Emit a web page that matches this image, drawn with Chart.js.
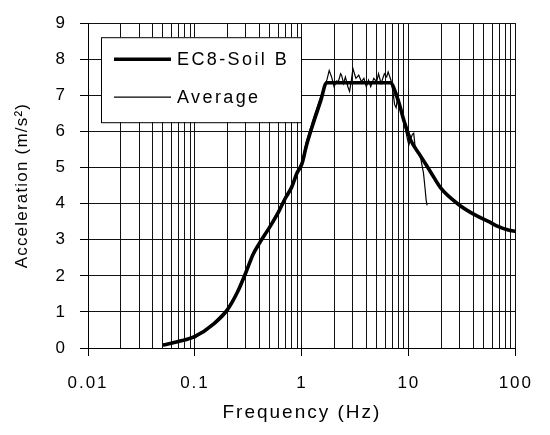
<!DOCTYPE html>
<html>
<head>
<meta charset="utf-8">
<script src="https://cdn.jsdelivr.net/npm/chart.js@4/dist/chart.umd.min.js"></script>
<style>
  html, body { margin: 0; padding: 0; background: #fff; }
  canvas { display: block; }
</style>
</head>
<body>
<canvas id="chart" width="550" height="435"></canvas>
<script>
// EC8 design spectrum (thick line), [frequency Hz, acceleration m/s2]
const ec8Freq = [0.05, 0.07, 0.1, 0.15, 0.2, 0.25, 0.3, 0.35, 0.4, 0.5, 0.6, 0.7, 0.8, 0.9, 1.0, 1.1, 1.3, 1.5, 1.7, 6.7, 7.9, 9.1, 10.4, 12.8, 15.8, 20, 30, 42, 56, 68, 85, 100];
const ec8Acc = [0.08, 0.18, 0.32, 0.67, 1.05, 1.55, 2.1, 2.6, 2.9, 3.35, 3.75, 4.15, 4.45, 4.85, 5.1, 5.6, 6.3, 6.85, 7.35, 7.35, 6.88, 6.25, 5.76, 5.33, 4.9, 4.42, 3.95, 3.68, 3.5, 3.37, 3.27, 3.23];

// average of records (thin line)
const avgFreq = [0.05, 0.07, 0.1, 0.12, 0.15, 0.2, 0.25, 0.3, 0.35, 0.4, 0.5, 0.6, 0.7, 0.8, 0.9, 1.0, 1.1, 1.3, 1.5, 1.65, 1.72, 1.8, 1.9, 2.0, 2.1, 2.19, 2.3, 2.35, 2.45, 2.55, 2.69, 2.79, 2.9, 3.0, 3.1, 3.2, 3.4, 3.6, 3.8, 4.0, 4.2, 4.4, 4.7, 5.0, 5.2, 5.5, 5.9, 6.2, 6.4, 6.8, 7.1, 7.35, 7.6, 7.9, 8.3, 8.6, 9.1, 9.6, 10.0, 10.4, 10.8, 11.1, 11.4, 12.0, 12.9, 13.2, 13.7, 14.2, 14.5, 14.8];
const avgAcc = [0.1, 0.17, 0.28, 0.45, 0.7, 1.08, 1.58, 2.15, 2.62, 2.93, 3.38, 3.8, 4.2, 4.5, 4.9, 5.15, 5.72, 6.42, 6.97, 7.3, 7.45, 7.69, 7.5, 7.24, 7.4, 7.38, 7.6, 7.56, 7.33, 7.51, 7.24, 7.11, 7.42, 7.74, 7.6, 7.47, 7.56, 7.38, 7.47, 7.24, 7.42, 7.24, 7.47, 7.38, 7.6, 7.33, 7.6, 7.51, 7.65, 7.42, 7.1, 6.75, 6.66, 7.0, 6.7, 6.55, 6.2, 5.85, 5.62, 5.8, 5.92, 5.95, 5.62, 5.44, 5.26, 5.1, 4.85, 4.4, 4.1, 3.95];

const xMajor = [0.01, 0.1, 1, 10, 100];
const xTickLabels = ["0.01", "0.1", "1", "10", "100"];
const yTicks = [0, 1, 2, 3, 4, 5, 6, 7, 8, 9];

const seriesLabels = ["EC8-Soil B", "Average"];

const fontFamily = "'Liberation Sans', Arial, sans-serif";

function toPoints(xs, ys) {
  return xs.map((x, i) => ({ x, y: ys[i] }));
}

// grid lines at 1..9 of every decade
function logGridValues() {
  const values = [];
  xMajor.forEach((m, i) => {
    values.push({ value: m, major: true });
    if (i < xMajor.length - 1) {
      for (let k = 2; k <= 9; k++) {
        values.push({ value: m * k, major: false });
      }
    }
  });
  return values;
}

const spacingPlugin = {
  id: "letterSpacing",
  beforeUpdate(chart) {
    chart.ctx.letterSpacing = "2px";
  },
  afterLayout(chart) {
    // the vertical title is set tighter than the rest of the text
    const yScale = chart.scales.y;
    if (yScale && !yScale._spacingWrapped) {
      const drawTitle = yScale.drawTitle;
      yScale.drawTitle = function () {
        this.ctx.save();
        this.ctx.letterSpacing = "1.2px";
        drawTitle.apply(this, arguments);
        this.ctx.restore();
      };
      yScale._spacingWrapped = true;
    }
  },
  beforeDraw(chart) {
    chart.ctx.letterSpacing = "2px";
  },
};

const legendBoxPlugin = {
  id: "legendBox",
  beforeDatasetsDraw(chart) {
    const { ctx, chartArea } = chart;
    const left = chartArea.left + 13;
    const top = chartArea.top + 14;
    const w = 200;
    const h = 85;
    ctx.save();
    ctx.fillStyle = "#fff";
    ctx.fillRect(left, top, w, h);
    ctx.strokeStyle = "#000";
    ctx.lineWidth = 1;
    ctx.strokeRect(left + 0.5, top + 0.5, w, h);
    ctx.font = `18px ${fontFamily}`;
    ctx.letterSpacing = "2.4px";
    ctx.textBaseline = "middle";
    ctx.fillStyle = "#000";
    chart.data.datasets.forEach((ds, i) => {
      const y = top + 22 + i * 38;
      ctx.beginPath();
      ctx.lineWidth = ds.borderWidth;
      ctx.moveTo(left + 13, y);
      ctx.lineTo(left + 70, y);
      ctx.stroke();
      ctx.fillText(ds.label, left + 76, y + 1);
    });
    ctx.restore();
  },
};

const ctx = document.getElementById("chart").getContext("2d");

new Chart(ctx, {
  type: "line",
  data: {
    datasets: [
      {
        label: seriesLabels[0],
        data: toPoints(ec8Freq, ec8Acc),
        borderColor: "#000",
        backgroundColor: "#000",
        borderWidth: 3.6,
        pointRadius: 0,
        cubicInterpolationMode: "monotone",
        fill: false,
      },
      {
        label: seriesLabels[1],
        data: toPoints(avgFreq, avgAcc),
        borderColor: "#000",
        backgroundColor: "#000",
        borderWidth: 1.2,
        pointRadius: 0,
        tension: 0,
        fill: false,
      },
    ],
  },
  options: {
    responsive: false,
    animation: false,
    devicePixelRatio: 1,
    color: "#000",
    layout: {
      padding: { top: 15, right: 22, left: 0, bottom: 0 },
    },
    plugins: {
      legend: { display: false },
      tooltip: { enabled: false },
    },
    scales: {
      x: {
        type: "logarithmic",
        min: 0.01,
        max: 100,
        afterBuildTicks(scale) {
          scale.ticks = logGridValues();
        },
        afterFit(scale) {
          scale.height = 87;
        },
        ticks: {
          autoSkip: false,
          maxRotation: 0,
          padding: 17,
          color: "#000",
          font: { family: fontFamily, size: 17 },
          callback(value, index, ticks) {
            const i = xMajor.indexOf(value);
            return ticks[index].major && i >= 0 ? xTickLabels[i] : "";
          },
        },
        grid: {
          color: "#111",
          lineWidth: 1,
          tickLength: 8,
          tickColor: (c) => (c.tick && c.tick.major ? "#000" : "rgba(0,0,0,0)"),
        },
        border: { color: "#000", width: 1 },
        title: {
          display: true,
          text: "Frequency (Hz)",
          color: "#000",
          font: { family: fontFamily, size: 19 },
          padding: { top: 0, bottom: 11 },
        },
      },
      y: {
        type: "linear",
        min: yTicks[0],
        max: yTicks[yTicks.length - 1],
        afterBuildTicks(scale) {
          scale.ticks = yTicks.map((v) => ({ value: v }));
        },
        afterFit(scale) {
          scale.width = 88;
        },
        ticks: {
          padding: 13,
          color: "#000",
          font: { family: fontFamily, size: 17 },
        },
        grid: {
          color: "#111",
          lineWidth: 1,
          tickLength: 8,
          tickColor: "#000",
        },
        border: { color: "#000", width: 1 },
        title: {
          display: true,
          text: "Acceleration (m/s²)",
          color: "#000",
          font: { family: fontFamily, size: 17 },
          padding: { top: 12, bottom: 0 },
        },
      },
    },
  },
  plugins: [spacingPlugin, legendBoxPlugin],
});
</script>
</body>
</html>
